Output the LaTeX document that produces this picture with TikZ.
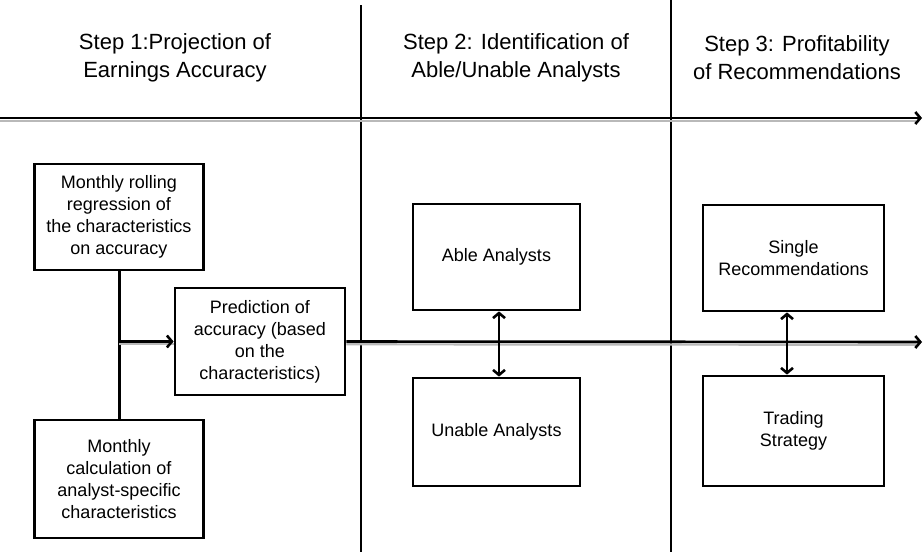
\documentclass[tikz,border=0pt]{standalone}
\usepackage{fontspec}
\setmainfont{Liberation Sans}
\usetikzlibrary{arrows.meta}
\begin{document}
\begin{tikzpicture}[x=1pt,y=-1pt,
  box/.style={draw, line width=2.8pt, inner sep=0pt, align=center,
    font=\fontsize{18}{22}\selectfont},
  head/.style={align=center, font=\fontsize{22}{28}\selectfont},
  sep/.style={line width=1.8pt},
  conn/.style={line width=3pt},
  arr/.style={line width=2.6pt, -{Straight Barb[length=5pt,width=12pt,line width=2.6pt]}},
  darr/.style={line width=2.6pt, {Straight Barb[length=5pt,width=12pt,line width=2.6pt]}-{Straight Barb[length=5pt,width=12pt,line width=2.6pt]}},
  shadow/.style={line width=2.2pt, gray!55}]
\useasboundingbox (0,0) rectangle (924,552);

% column separators
\coordinate (s1t) at (361,5);   \coordinate (s1b) at (361,552);
\coordinate (s2t) at (671,0);   \coordinate (s2b) at (671,552);
\draw[sep] (s1t) -- (s1b);
\draw[sep] (s2t) -- (s2b);

% headers
\node[head] (h1) at (175,58) {Step 1:Projection of\\Earnings Accuracy};
\node[head] (h2) at (516,58) {Step 2: Identification of\\Able/Unable Analysts};
\node[head] (h3) at (797,58) {Step 3: Profitability\\of Recommendations};

% boxes
\node[box, minimum width=169pt, minimum height=106pt] (b1) at (119,217)
  {Monthly rolling\\regression of\\the characteristics\\on accuracy};
\node[box, minimum width=170pt, minimum height=107pt, fill=white] (pred) at (260,341.5)
  {Prediction of\\accuracy (based\\on the\\characteristics)};
\node[box, minimum width=169pt, minimum height=118pt] (b3) at (119,479)
  {Monthly\\calculation of\\analyst-specific\\characteristics};
\node[box, minimum width=167pt, minimum height=106pt] (able) at (496.5,257) {Able Analysts};
\node[box, minimum width=167pt, minimum height=108pt] (unable) at (496.5,432) {Unable Analysts};
\node[box, minimum width=181pt, minimum height=106pt] (single) at (793.5,258) {Single\\Recommendations};
\node[box, minimum width=181pt, minimum height=110pt] (trade) at (793.5,431) {Trading\\Strategy};

% top timeline arrow
\coordinate (tl) at (0,118);
\coordinate (tr) at (922,118);
\draw[shadow] ([yshift=-2.8pt]tl) -- ([yshift=-2.8pt,xshift=-6pt]tr);
\draw[arr] (tl) -- (tr);

% left connector
\draw[conn] (b1.south) -- (b3.north);
\coordinate (j) at (b1.south |- pred.west);
\draw[shadow] ([yshift=-2.8pt]j) -- ([yshift=-2.8pt]pred.west);
\draw[arr] (j) -- (pred.west);

% middle arrow
\coordinate (mr) at (922,342);
\draw[shadow] ([yshift=-2.8pt]pred.east) -- ([yshift=-2.8pt,xshift=-6pt]mr);
\draw[arr] (pred.east) -- (mr);

% double arrows
\draw[darr] ([xshift=2.5pt]able.south) -- ([xshift=2.5pt]unable.north);
\draw[darr] ([xshift=-6.5pt]single.south) -- ([xshift=-6.5pt]trade.north);
\end{tikzpicture}
\end{document}
